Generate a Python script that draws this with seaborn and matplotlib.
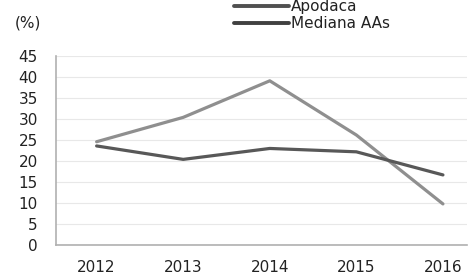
import pandas as pd
import matplotlib.pyplot as plt
import seaborn as sns

years = ["2012", "2013", "2014", "2015", "2016"]
apodaca = [24.6, 30.4, 39.1, 26.2, 9.8]
mediana = [23.6, 20.4, 23.0, 22.2, 16.7]
series_names = ["Apodaca", "Mediana AAs"]

data = pd.DataFrame({
    "pos": list(range(len(years))) * 2,
    "value": apodaca + mediana,
    "serie": [series_names[0]] * len(years) + [series_names[1]] * len(years),
})

sns.set_style("white")
plt.rcParams["font.family"] = ["DejaVu Sans"]

fig = plt.figure(figsize=(4.7, 2.76), dpi=100)
ax = fig.add_axes([0.119, 0.112, 0.875, 0.685])

sns.lineplot(data=data, x="pos", y="value", hue="serie",
             palette=["#8f8f8f", "#585858"], linewidth=2.3, ax=ax, legend=False)

ax.set_xlim(-0.47, 4.28)
ax.set_ylim(0, 45)
ax.set_yticks(range(0, 46, 5))
ax.set_xticks(range(len(years)))
ax.set_xticklabels(years)
ax.set_xlabel("")
ax.set_ylabel("")
ax.tick_params(axis="both", length=0, labelsize=11, colors="#222222")
ax.tick_params(axis="x", pad=11)
ax.tick_params(axis="y", pad=13)
ax.grid(axis="y", color="#e8e8e8", linewidth=0.8)
for s in ["top", "right"]:
    ax.spines[s].set_visible(False)
for s in ["left", "bottom"]:
    ax.spines[s].set_color("#b0b0b0")
    ax.spines[s].set_linewidth(1.2)

fig.text(0.031, 0.915, "(%)", fontsize=11, color="#222222", va="center")

handles = [plt.Line2D([], [], color="#505050", linewidth=2.8),
           plt.Line2D([], [], color="#404040", linewidth=2.8)]
fig.legend(handles, series_names, loc="upper left", bbox_to_anchor=(0.497, 1.003),
           frameon=False, fontsize=11, handlelength=3.6, handletextpad=0.15,
           labelspacing=0.12, borderpad=0, borderaxespad=0, labelcolor="#222222")

fig.savefig("out.png", dpi=100)
